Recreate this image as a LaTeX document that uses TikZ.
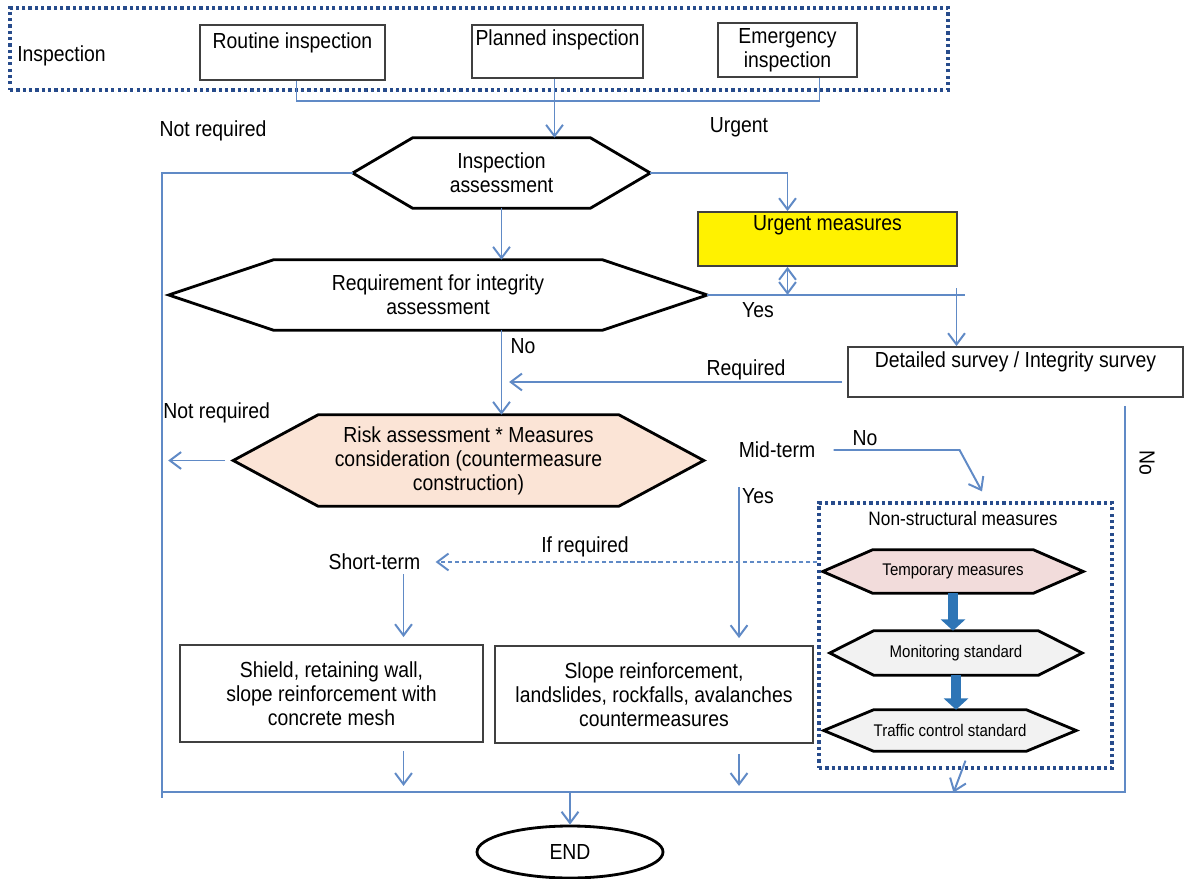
\documentclass[tikz,border=0pt]{standalone}
\usepackage{fontspec}
\setmainfont{Liberation Sans}[FakeStretch=0.89]
\usetikzlibrary{arrows.meta,calc,shapes.geometric,backgrounds}

\definecolor{linkblue}{RGB}{96,138,198}
\definecolor{dotblue}{RGB}{40,76,140}
\definecolor{peach}{RGB}{251,228,214}
\definecolor{rosy}{RGB}{242,220,219}
\definecolor{paleGray}{RGB}{242,242,242}
\definecolor{arrowblue}{RGB}{46,117,182}

\newcommand{\px}{0.025cm}
% hexagon drawn round a named node: name, corner offset, fill
\newcommand{\hexagon}[3]{\path[hexline, fill=#3] (#1.west) -- ($(#1.north west)+(#2,0)$) --
  ($(#1.north east)+(-#2,0)$) -- (#1.east) -- ($(#1.south east)+(-#2,0)$) --
  ($(#1.south west)+(#2,0)$) -- cycle;}

\tikzset{
  every node/.style={font=\fontsize{15.5}{17}\selectfont, inner sep=0pt},
  conn/.style={linkblue, line width=1.4pt},
  arr/.style={conn, -{Straight Barb[length=8pt,width=12pt]}},
  dblarr/.style={conn, {Straight Barb[length=8pt,width=12pt]}-{Straight Barb[length=8pt,width=12pt]}},
  box/.style={draw=black!75, line width=1.3pt},
  lift/.style={text height=12pt, text depth=#1},
  hexnode/.style={align=center},
  hexline/.style={draw=black, line width=2pt, line join=miter},
  small/.style={font=\fontsize{12}{14}\selectfont},
  groupbox/.style={draw=dotblue, line width=2.3pt, dash pattern=on 2.3pt off 2.2pt},
  blockarr/.style={draw=arrowblue, line width=6.5pt, -{Triangle[length=8pt,width=17pt]}},
}

\begin{document}
\begin{tikzpicture}[x=0.025cm, y=-0.025cm]
\useasboundingbox (0,0) rectangle (1184,879);

% inspection group
\node[groupbox, minimum width=938*\px, minimum height=82*\px] (inspgroup) at (479,49) {};
\node[anchor=west] (insplabel) at (17,56) {Inspection};
\node[box, lift=17pt, minimum width=185*\px, minimum height=55*\px] (routine) at (292.5,52.5) {Routine inspection};
\node[box, lift=20pt, minimum width=171*\px, minimum height=53*\px] (planned) at (557.5,51.5) {Planned inspection};
\node[box, align=center, minimum width=139*\px, minimum height=54*\px] (emergency) at (787.5,50) {Emergency\\inspection};

% assessments
\node[hexnode, minimum width=297*\px, minimum height=70*\px] (assess) at (501.5,173) {Inspection\\assessment};
\node[box, fill=yellow, lift=23.5pt, minimum width=259*\px, minimum height=54*\px] (urgent) at (827.5,239) {Urgent measures};
\node[hexnode, minimum width=538*\px, minimum height=70*\px] (req) at (438,295) {Requirement for integrity\\assessment};
\node[box, lift=19pt, minimum width=335*\px, minimum height=50*\px] (detailed) at (1015.5,372) {Detailed survey / Integrity survey};
\node[hexnode, minimum width=470*\px, minimum height=91*\px] (risk) at (468.5,460.5) {Risk assessment * Measures\\consideration (countermeasure\\construction)};

% countermeasures
\node[box, align=center, minimum width=303*\px, minimum height=97*\px] (shield) at (331.5,693.5) {Shield, retaining wall,\\slope reinforcement with\\concrete mesh};
\node[box, align=center, minimum width=318*\px, minimum height=97*\px] (slope) at (654,694.5) {Slope reinforcement,\\landslides, rockfalls, avalanches\\countermeasures};

% non-structural measures
\node[groupbox, minimum width=293*\px, minimum height=265*\px] (nonstruct) at (965.5,635.5) {};
\node[font=\fontsize{13.8}{16}\selectfont] (nstitle) at (963,519) {Non-structural measures};
\node[hexnode, small, minimum width=260*\px, minimum height=43*\px] (temp) at (953,571.5) {Temporary measures};
\node[hexnode, small, minimum width=252*\px, minimum height=44*\px] (monitor) at (956,653) {Monitoring standard};
\node[hexnode, small, minimum width=252*\px, minimum height=41*\px] (traffic) at (950,730.5) {Traffic control standard};

\node[draw, ellipse, line width=2pt, minimum width=186*\px, minimum height=52*\px] (finish) at (570,852) {END};

% labels
\node (lblnr1) at (213,131) {Not required};
\node (lblurgent) at (739,127) {Urgent};
\node (lblyes1) at (758,310) {Yes};
\node (lblno1) at (523,346) {No};
\node (lblreq) at (746,370) {Required};
\node[anchor=west] (lblnr2) at (163,413) {Not required};
\node (midterm) at (777,450) {Mid-term};
\node (lblno2) at (865,438) {No};
\node (lblyes2) at (758,496) {Yes};
\node (lblifreq) at (585,547) {If required};
\node (shortterm) at (374.5,562) {Short-term};
\node[rotate=-90] (lblno3) at (1147,463) {No};

\begin{scope}[on background layer]
\hexagon{assess}{60}{white}
\hexagon{req}{105}{white}
\hexagon{risk}{85}{peach}
\hexagon{temp}{50}{rosy}
\hexagon{monitor}{44}{paleGray}
\hexagon{traffic}{50}{paleGray}
\end{scope}

\coordinate (leftbottom) at (162,798);
\coordinate (botleft) at (162,792);
\coordinate (yesend) at (965,295);

\draw[conn] ($(routine.south)+(4,0)$) -- ++(0,20) -| ($(emergency.south)+(32,0)$);
\draw[arr] ($(planned.south)+(-3,0)$) coordinate (p0) -- (p0 |- assess.north);
\draw[conn] (assess.west) -| (leftbottom);
\draw[arr] (assess.east) -| ($(urgent.north)+(-40,0)$);
\draw[arr] (assess.south) -- (assess.south |- req.north);
\draw[dblarr] ($(urgent.south)+(-40,0)$) -- ++(0,28);
\draw[conn] (req.east) -- (yesend);
\draw[arr] ($(detailed.north)+(-59,-58)$) -- ($(detailed.north)+(-59,0)$);
\draw[arr] ($(detailed.west)+(-5,10)$) -- ($(detailed.west)+(-338,10)$);
\draw[arr] (assess.south |- req.south) -- (assess.south |- risk.north);
\draw[arr] ($(risk.west)+(-8,0)$) -- ($(risk.west)+(-65,0)$);
\draw[arr] ($(midterm.east)+(18,0)$) -- ++(126,0) -- ($(nonstruct.north)+(16.5,-10)$);
\draw[arr] ($(slope.north)+(85,-158)$) -- ($(slope.north)+(85,-7)$);
\draw[arr, dash pattern=on 3pt off 2pt] ($(nonstruct.west)+(0,-73.5)$) -- ($(shortterm.east)+(15,0)$);
\draw[arr] ($(shield.north)+(72,-70)$) -- ($(shield.north)+(72,-7)$);
\draw[arr] ($(shield.south)+(72,8)$) -- ($(shield.south)+(72,43)$);
\draw[arr] ($(slope.south)+(85,10)$) -- ($(slope.south)+(85,42)$);
\draw[arr] ($(nonstruct.south)+(0,-9)$) -- ($(nonstruct.south)+(-12,23)$);
\draw[conn] ($(detailed.south)+(109.5,8)$) |- (botleft);
\draw[arr] (finish.north |- botleft) -- (finish.north);

\draw[blockarr] (temp.south) -- (temp.south |- monitor.north);
\draw[blockarr] (monitor.south) -- (monitor.south |- traffic.north);
\end{tikzpicture}
\end{document}
